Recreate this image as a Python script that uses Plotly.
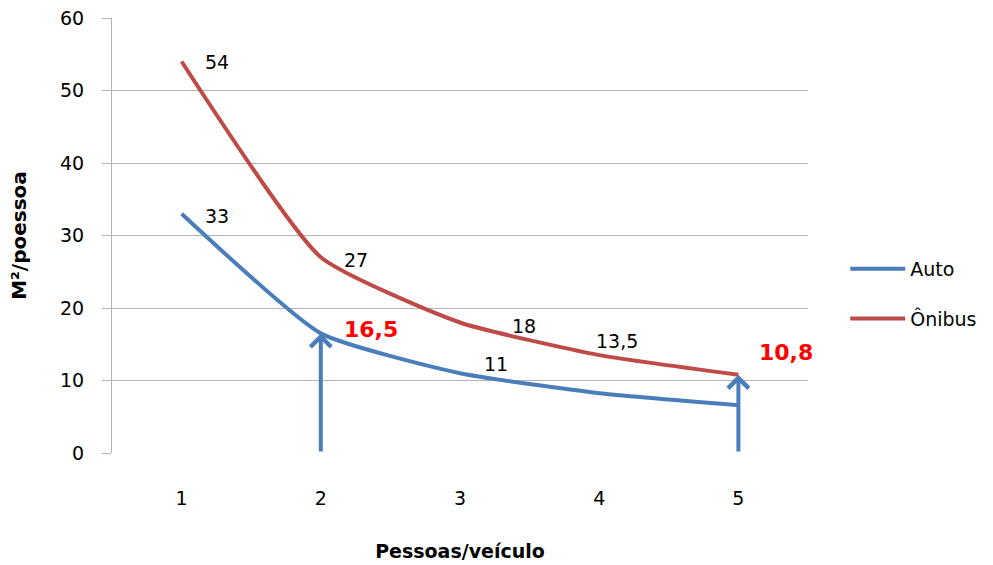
import plotly.graph_objects as go

# Space per person by vehicle occupancy
pessoas = [1, 2, 3, 4, 5]
auto = [33, 16.5, 11, 8.25, 6.6]
onibus = [54, 27, 18, 13.5, 10.8]
y_ticks = [0, 10, 20, 30, 40, 50, 60]

BLUE = "#4A7EBB"
RED = "#BE4B48"
FONT = "DejaVu Sans"


def fmt(v):
    s = ("%g" % v)
    return s.replace(".", ",")


fig = go.Figure()
fig.add_trace(go.Scatter(
    x=pessoas, y=auto, name="Auto", mode="lines",
    line=dict(color=BLUE, width=4, shape="spline", smoothing=0.5),
    legendgroup="a",
))
fig.add_trace(go.Scatter(
    x=pessoas, y=onibus, name="Ônibus", mode="lines",
    line=dict(color=RED, width=4, shape="spline", smoothing=0.5),
    legendgroup="b",
))

# Value labels: (series, index, xshift, yshift, highlighted)
labels = [
    (onibus, 0, 35, 0, False),
    (auto, 0, 35, -2, False),
    (onibus, 1, 35, -3, False),
    (onibus, 2, 64, -3, False),
    (auto, 2, 36, 9, False),
    (onibus, 3, 18, 14, False),
    (auto, 1, 50, 4, True),
    (onibus, 4, 48, 22, True),
]
for series, i, dx, dy, hi in labels:
    fig.add_annotation(
        x=pessoas[i], y=series[i], text=fmt(series[i]),
        showarrow=False, xshift=dx, yshift=dy,
        font=dict(family=FONT, size=22 if hi else 19,
                  color="#FF0000" if hi else "#000000",
                  weight="bold" if hi else "normal"),
    )

# Arrows from the base of the axis up to highlighted values
for xi, val in [(pessoas[1], auto[1]), (pessoas[4], onibus[4])]:
    fig.add_annotation(
        x=xi, y=val, ax=xi, ay=0, xref="x", yref="y", axref="x", ayref="y",
        text="", showarrow=True, arrowhead=4, arrowsize=1.0,
        arrowwidth=4, arrowcolor=BLUE, standoff=0,
    )

fig.update_layout(
    width=993, height=565,
    margin=dict(l=112, r=184, t=18, b=112),
    plot_bgcolor="white", paper_bgcolor="white",
    font=dict(family=FONT, size=19, color="#000000"),
    showlegend=True,
    legend=dict(
        x=1.052, y=0.3655, xanchor="left", yanchor="middle",
        tracegroupgap=22, itemwidth=55,
        font=dict(family=FONT, size=19, color="#000000"),
        bgcolor="rgba(0,0,0,0)",
    ),
    xaxis=dict(
        range=[0.5, 5.5], tickvals=pessoas, ticktext=[str(p) for p in pessoas],
        showgrid=False, zeroline=False, showline=False, ticks="",
        title=dict(text="<b>Pessoas/veículo</b>", standoff=36,
                   font=dict(family=FONT, size=19)),
        ticklabelstandoff=32, automargin=False,
    ),
    yaxis=dict(
        range=[0, 60], tickvals=y_ticks, showgrid=True, gridcolor="#B3B3B3",
        gridwidth=1, zeroline=False, showline=True, linecolor="#B3B3B3",
        ticks="outside", ticklen=9, tickcolor="#B3B3B3",
        ticklabelstandoff=14, automargin=False,
        title=dict(text="<b>M²/poessoa</b>", standoff=28,
                   font=dict(family=FONT, size=20)),
    ),
)

fig.write_html("out.html")
